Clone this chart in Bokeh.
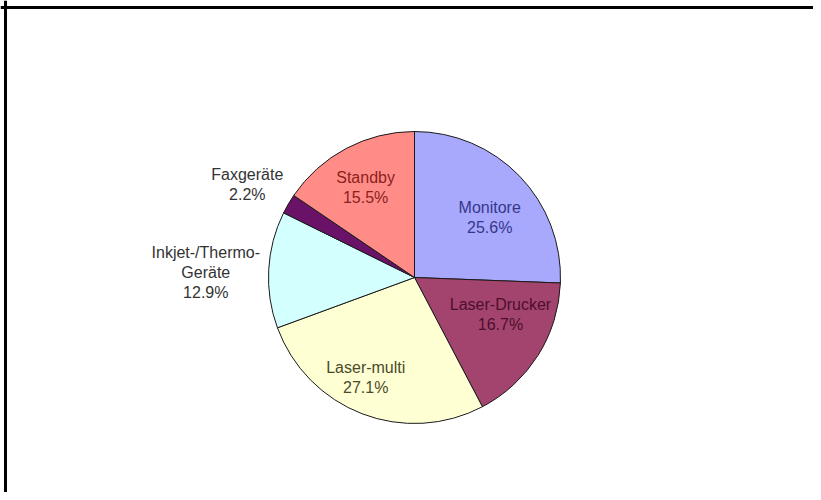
import math
from bokeh.plotting import figure
from bokeh.models import Range1d, Span, ColumnDataSource
from bokeh.core.properties import value
from bokeh.embed import file_html
from bokeh.resources import INLINE

# ---- data ----
categories = ["Monitore", "Laser-Drucker", "Laser-multi", "Inkjet-/Thermo-\nGeräte", "Faxgeräte", "Standby"]
shares = [25.6, 16.7, 27.1, 12.9, 2.2, 15.5]
fill_colors = ["#a8a8fd", "#a3446e", "#ffffd4", "#d4ffff", "#6a1268", "#ff8c86"]
text_colors = ["#37378a", "#4d0f2b", "#4a4a2a", "#333333", "#333333", "#8a1f1f"]

# ---- layout ----
W, H = 813, 492
cx, cy, R = 414, 215, 146
lab_r = [0.66, 0.64, 0.76, 1.43, 1.31, 0.70]     # label distance (fraction of radius)
lab_nudge = [-5.2, 9.2, -5.0, 1.7, 1.2, 0.7]       # label angle nudge (deg)
font = value("Liberation Sans")
fsize = "16px"
line_gap = 20

p = figure(width=W, height=H, output_backend="svg", toolbar_location=None,
           x_range=Range1d(0, W), y_range=Range1d(0, H),
           x_axis_type=None, y_axis_type=None, min_border=0,
           outline_line_color=None, background_fill_color="white",
           border_fill_color="white")
p.xgrid.visible = False
p.ygrid.visible = False

total = sum(shares)
angles = [math.pi / 2]
for s in shares:
    angles.append(angles[-1] - s / total * 2 * math.pi)

src = ColumnDataSource(dict(
    start=angles[1:], end=angles[:-1], color=fill_colors,
))
p.wedge(x=cx, y=cy, radius=R, start_angle="start", end_angle="end",
        fill_color="color", line_color="#1a1a1a", line_width=1, source=src)

xs, ys, txt, cols = [], [], [], []
for i, (cat, s) in enumerate(zip(categories, shares)):
    mid = (angles[i] + angles[i + 1]) / 2 + math.radians(lab_nudge[i])
    lx = cx + lab_r[i] * R * math.cos(mid)
    ly = cy + lab_r[i] * R * math.sin(mid)
    lines = cat.split("\n") + [f"{s:.1f}%"]
    n = len(lines)
    for j, ln in enumerate(lines):
        xs.append(lx)
        ys.append(ly - (j - (n - 1) / 2) * line_gap)
        txt.append(ln)
        cols.append(text_colors[i])

p.text(x=xs, y=ys, text=txt, text_color=cols, text_font=font, text_font_size=fsize,
       text_align="center", text_baseline="middle")

# frame lines (top and left, as in the reference crop)
p.add_layout(Span(location=H - 7, dimension="width", line_color="black", line_width=3))
p.add_layout(Span(location=5, dimension="height", line_color="black", line_width=3))

open("out.html", "w").write(file_html(p, INLINE))
